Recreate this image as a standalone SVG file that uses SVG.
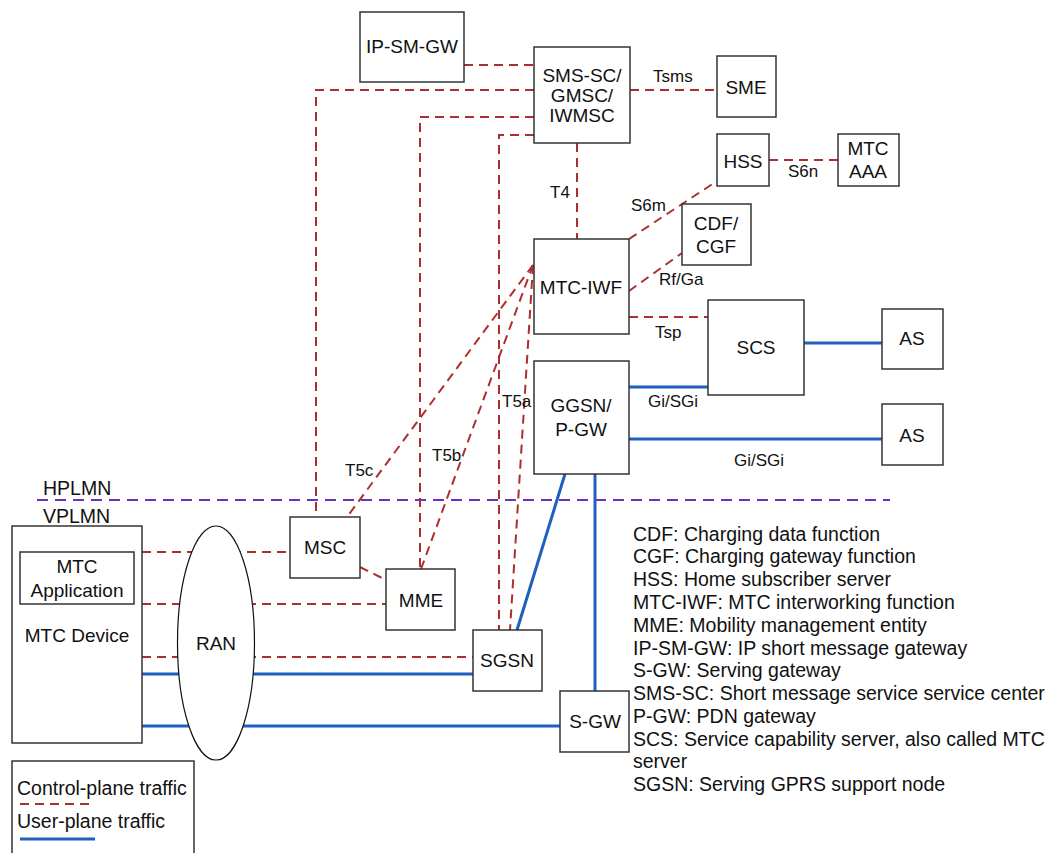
<svg xmlns="http://www.w3.org/2000/svg" width="1046" height="853" viewBox="0 0 1046 853">
<style>
.box{fill:#fff;stroke:#333;stroke-width:1.5}
.t{font-family:"Liberation Sans",Arial,sans-serif;font-size:19px;fill:#111;text-anchor:middle}
.l{font-family:"Liberation Sans",Arial,sans-serif;font-size:17px;fill:#111}
.a{font-family:"Liberation Sans",Arial,sans-serif;font-size:19.5px;fill:#111}
.cp{stroke:#AE2E2E;stroke-width:2;stroke-dasharray:9,6;fill:none}
.up{stroke:#1F5FBF;stroke-width:3;fill:none}
.pl{stroke:#6B2FC4;stroke-width:2;stroke-dasharray:11,7;fill:none}
</style>
<rect width="1046" height="853" fill="#fff"/>
<g id="connectors">
<line class="pl" x1="37" y1="500" x2="890" y2="500"/>
<path class="cp" d="M464 65H534"/>
<path class="cp" d="M630 90H717"/>
<path class="cp" d="M534 90H316V517"/>
<path class="cp" d="M534 117H420V569"/>
<path class="cp" d="M534 135H499V630"/>
<path class="cp" d="M577 143V239"/>
<path class="cp" d="M629 239L717 181"/>
<path class="cp" d="M769 160H838"/>
<path class="cp" d="M629 291L682 253"/>
<path class="cp" d="M629 317H708"/>
<path class="cp" d="M533 265L347 517"/>
<path class="cp" d="M533 265L421 569"/>
<path class="cp" d="M533 265L510 630"/>
<path class="cp" d="M360 567L386 580"/>
<path class="cp" d="M142 552H290"/>
<path class="cp" d="M142 604H386"/>
<path class="cp" d="M142 657H473"/>
<path class="up" d="M142 674H473"/>
<path class="up" d="M142 726H560"/>
<path class="up" d="M517 630L565 474"/>
<path class="up" d="M595 691V474"/>
<path class="up" d="M629 387H708"/>
<path class="up" d="M629 439H882"/>
<path class="up" d="M804 343H882"/>
<text class="l" x="653" y="82">Tsms</text>
<text class="l" x="550" y="198">T4</text>
<text class="l" x="631" y="211">S6m</text>
<text class="l" x="788" y="177">S6n</text>
<text class="l" x="659" y="285">Rf/Ga</text>
<text class="l" x="655" y="338">Tsp</text>
<text class="l" x="345" y="476">T5c</text>
<text class="l" x="432" y="461">T5b</text>
<text class="l" x="502" y="407">T5a</text>
<text class="l" x="648" y="407">Gi/SGi</text>
<text class="l" x="734" y="466">Gi/SGi</text>
</g>
<g id="ipsmgw"><rect class="box" x="360" y="12" width="104" height="70"/><text class="t" x="412" y="53">IP-SM-GW</text></g>
<g id="smssc"><rect class="box" x="534" y="47" width="96" height="96"/><text class="t" x="582" y="82">SMS-SC/</text><text class="t" x="582" y="102">GMSC/</text><text class="t" x="582" y="122">IWMSC</text></g>
<g id="sme"><rect class="box" x="717" y="56" width="59" height="61"/><text class="t" x="746" y="94">SME</text></g>
<g id="hss"><rect class="box" x="717" y="134" width="52" height="52"/><text class="t" x="743" y="168">HSS</text></g>
<g id="mtcaaa"><rect class="box" x="838" y="134" width="61" height="52"/><text class="t" x="868" y="155">MTC</text><text class="t" x="868" y="178">AAA</text></g>
<g id="cdfcgf"><rect class="box" x="682" y="204" width="69" height="61"/><text class="t" x="716" y="230">CDF/</text><text class="t" x="716" y="253">CGF</text></g>
<g id="mtciwf"><rect class="box" x="534" y="239" width="95" height="95"/><text class="t" x="581" y="294">MTC-IWF</text></g>
<g id="scs"><rect class="box" x="708" y="300" width="96" height="95"/><text class="t" x="756" y="354">SCS</text></g>
<g id="as1"><rect class="box" x="882" y="309" width="61" height="60"/><text class="t" x="912" y="345">AS</text></g>
<g id="as2"><rect class="box" x="882" y="404" width="61" height="61"/><text class="t" x="912" y="442">AS</text></g>
<g id="ggsn"><rect class="box" x="534" y="361" width="95" height="113"/><text class="t" x="581" y="412">GGSN/</text><text class="t" x="581" y="436">P-GW</text></g>
<g id="mtcdevice"><rect class="box" x="12" y="526" width="130" height="217"/><text class="t" x="77" y="642">MTC Device</text></g>
<g id="mtcapp"><rect class="box" x="20" y="552" width="114" height="52"/><text class="t" x="77" y="573">MTC</text><text class="t" x="77" y="597">Application</text></g>
<g id="ran"><ellipse cx="216" cy="643" rx="38.5" ry="117" fill="#fff" stroke="#111" stroke-width="1.2"/><text class="t" x="216" y="650">RAN</text></g>
<g id="msc"><rect class="box" x="290" y="517" width="70" height="61"/><text class="t" x="325" y="554">MSC</text></g>
<g id="mme"><rect class="box" x="386" y="569" width="69" height="61"/><text class="t" x="421" y="607">MME</text></g>
<g id="sgsn"><rect class="box" x="473" y="630" width="69" height="61"/><text class="t" x="507" y="667">SGSN</text></g>
<g id="sgw"><rect class="box" x="560" y="691" width="69" height="61"/><text class="t" x="595" y="728">S-GW</text></g>
<g id="plmn">
<text class="a" x="43" y="495">HPLMN</text>
<text class="a" x="43" y="523">VPLMN</text>
</g>
<g id="legend">
<path d="M12 853V761H194V853" fill="none" stroke="#333" stroke-width="1.5"/>
<text class="a" x="17" y="795">Control-plane traffic</text>
<line class="cp" x1="20" y1="804" x2="91" y2="804"/>
<text class="a" x="17" y="828">User-plane traffic</text>
<line class="up" x1="20" y1="839" x2="95" y2="839"/>
</g>
<g id="abbrev">
<text class="a" x="633" y="541">CDF: Charging data function</text>
<text class="a" x="633" y="563">CGF: Charging gateway function</text>
<text class="a" x="633" y="586">HSS: Home subscriber server</text>
<text class="a" x="633" y="609">MTC-IWF: MTC interworking function</text>
<text class="a" x="633" y="632">MME: Mobility management entity</text>
<text class="a" x="633" y="655">IP-SM-GW: IP short message gateway</text>
<text class="a" x="633" y="677">S-GW: Serving gateway</text>
<text class="a" x="633" y="700">SMS-SC: Short message service service center</text>
<text class="a" x="633" y="723">P-GW: PDN gateway</text>
<text class="a" x="633" y="746">SCS: Service capability server, also called MTC</text>
<text class="a" x="633" y="768">server</text>
<text class="a" x="633" y="791">SGSN: Serving GPRS support node</text>
</g>
</svg>
